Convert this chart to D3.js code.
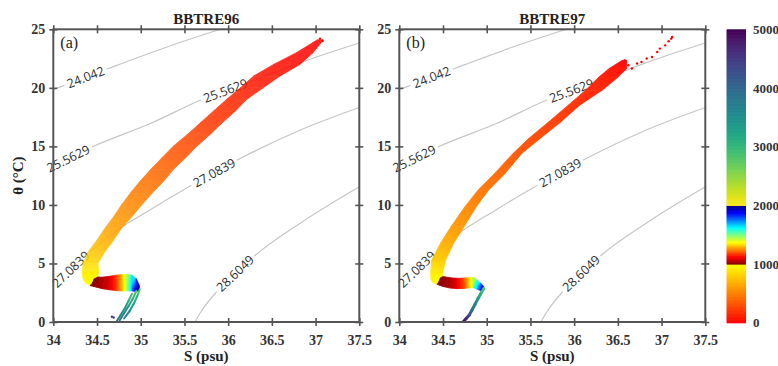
<!DOCTYPE html>
<html><head><meta charset="utf-8">
<script src="https://cdn.jsdelivr.net/npm/d3@7/dist/d3.min.js"></script>
<style>html,body{margin:0;padding:0;background:#fff;} svg{display:block}</style>
</head><body>
<svg id="chart" width="778" height="366"></svg>
<script>
// ---------------- data ----------------
const sTicks = [34, 34.5, 35, 35.5, 36, 36.5, 37, 37.5];
const thetaTicks = [0, 5, 10, 15, 20, 25];
const depthTicks = [0, 1000, 2000, 3000, 4000, 5000];
const panelTitles = ["BBTRE96", "BBTRE97"];
const panelLetters = ["(a)", "(b)"];

// isopycnals (sigma-theta) : points
const isoLevels = ["24.042", "25.5629", "27.0839", "28.6049"];
const iso1S = [34.0, 34.63, 35.3, 35.91];
const iso1T = [19.85, 21.65, 23.49, 25.0];
const iso2S = [34.0, 34.48, 35.11, 35.68, 36.29, 36.90, 37.5];
const iso2T = [13.33, 15.08, 16.95, 18.94, 20.65, 22.35, 23.83];
const iso3S = [34.0, 34.2, 34.4, 34.65, 35.1, 35.55, 36.12, 36.82, 37.5];
const iso3T = [3.0, 4.5, 5.85, 7.4, 9.55, 11.55, 13.9, 16.38, 18.32];
const iso4S = [35.62, 35.70, 35.87, 36.08, 36.31, 36.82, 37.5];
const iso4T = [0.0, 1.0, 2.59, 4.15, 5.7, 8.42, 11.55];
const isoLabelS = [[34.37], [34.17, 35.97], [34.2, 35.84], [36.08]];

// BBTRE96 : upper T-S band (theta level, fresh-edge S, salty-edge S, depth m)
const b96Theta = [24.1, 23.0, 22.0, 21.0, 20.0, 19.0, 18.0, 17.0, 16.0, 15.0, 14.0, 13.0, 12.0, 11.0, 10.0, 9.0, 8.0, 7.0, 6.0, 5.0, 4.3];
const b96SFresh = [37.02, 36.78, 36.52, 36.29, 36.14, 35.98, 35.83, 35.68, 35.53, 35.37, 35.24, 35.11, 34.99, 34.88, 34.78, 34.69, 34.59, 34.50, 34.40, 34.34, 34.33];
const b96SSalty = [37.09, 36.97, 36.82, 36.59, 36.40, 36.21, 36.08, 35.93, 35.79, 35.64, 35.51, 35.37, 35.26, 35.13, 35.01, 34.90, 34.78, 34.69, 34.59, 34.51, 34.52];
const b96Depth = [0, 20, 45, 75, 105, 140, 175, 215, 255, 300, 345, 390, 435, 480, 530, 580, 630, 690, 760, 850, 930];
// BBTRE96 : corner and intermediate-water hook (outer edge point, inner edge point, depth)
const h96S1 = [34.34, 34.37, 34.42, 34.48, 34.56, 34.64, 34.72, 34.78, 34.84, 34.90, 34.95, 34.985];
const h96T1 = [3.7, 3.3, 3.12, 3.0, 2.85, 2.75, 2.68, 2.65, 2.66, 2.65, 2.6, 2.7];
const h96S2 = [34.51, 34.51, 34.53, 34.56, 34.60, 34.66, 34.72, 34.78, 34.84, 34.90, 34.95, 34.985];
const h96T2 = [4.0, 3.85, 3.83, 3.83, 3.86, 3.92, 4.0, 4.05, 4.07, 4.0, 3.7, 3.1];
const h96Depth = [960, 995, 1010, 1030, 1060, 1100, 1180, 1300, 1450, 1650, 1850, 1990];
// BBTRE96 : deep strands (S, theta, depth)
const d96aS = [34.90, 34.86, 34.82, 34.77, 34.72];
const d96aT = [2.4, 1.8, 1.2, 0.6, 0.0];
const d96aD = [2900, 3150, 3400, 3650, 3900];
const d96bS = [34.95, 34.91, 34.86, 34.81, 34.76];
const d96bT = [2.65, 2.0, 1.35, 0.75, 0.15];
const d96bD = [2800, 3100, 3350, 3600, 3850];
const d96cS = [34.99, 34.96, 34.92, 34.87, 34.81];
const d96cT = [2.8, 2.2, 1.55, 0.9, 0.3];
const d96cD = [2700, 3000, 3300, 3550, 3800];
// BBTRE96 : isolated points
const p96S = [34.67, 34.69, 37.05, 37.08];
const p96T = [0.45, 0.38, 24.2, 24.0];
const p96D = [4400, 4450, 0, 0];

// BBTRE97 : upper band
const b97Theta = [22.35, 21.65, 20.9, 19.8, 18.5, 17.1, 15.67, 14.39, 12.69, 11.26, 9.84, 8.13, 6.71, 5.29, 4.3];
const b97SFresh = [36.55, 36.40, 36.28, 36.13, 35.93, 35.71, 35.48, 35.30, 35.09, 34.90, 34.75, 34.59, 34.47, 34.37, 34.36];
const b97SSalty = [36.60, 36.60, 36.50, 36.32, 36.06, 35.85, 35.61, 35.40, 35.21, 35.02, 34.88, 34.74, 34.62, 34.53, 34.50];
const b97Depth = [0, 40, 80, 130, 180, 230, 280, 330, 400, 460, 520, 600, 680, 800, 910];
const h97S1 = [34.36, 34.38, 34.43, 34.50, 34.58, 34.66, 34.74, 34.80, 34.85, 34.89, 34.93, 34.965];
const h97T1 = [3.7, 3.4, 3.22, 3.03, 2.9, 2.85, 2.87, 2.92, 2.92, 2.8, 2.68, 2.7];
const h97S2 = [34.49, 34.50, 34.53, 34.57, 34.61, 34.67, 34.74, 34.80, 34.85, 34.89, 34.93, 34.965];
const h97T2 = [4.0, 3.88, 3.84, 3.8, 3.76, 3.73, 3.75, 3.8, 3.82, 3.6, 3.3, 3.05];
const h97Depth = [960, 995, 1010, 1030, 1060, 1110, 1200, 1330, 1460, 1620, 1800, 1980];
const d97S = [34.965, 34.93, 34.90, 34.865, 34.83, 34.80, 34.765, 34.73];
const d97T = [2.85, 2.4, 2.0, 1.5, 1.0, 0.6, 0.3, 0.0];
const d97D = [2800, 3100, 3350, 3650, 3950, 4300, 4650, 5000];
const p97S = [36.58, 36.62, 36.66, 36.72, 36.77, 36.83, 36.89, 36.95, 36.98, 37.04, 37.08, 37.11, 37.12];
const p97T = [22.35, 21.93, 21.65, 22.08, 22.21, 22.5, 22.64, 23.06, 23.35, 23.63, 23.98, 24.2, 24.34];
const p97D = [0, 5, 10, 5, 5, 0, 0, 0, 0, 0, 0, 0, 0];

// ---------------- rendering ----------------
const W = 778, H = 366;
const svg = d3.select("#chart");
const defs = svg.append("defs");
const serif = "'Liberation Serif', 'Times New Roman', serif";

function jet(t) {
  const c = v => Math.max(0, Math.min(1, v));
  const r = c(Math.min(4 * t - 1.5, -4 * t + 4.5));
  const g = c(Math.min(4 * t - 0.5, -4 * t + 3.5));
  const b = c(Math.min(4 * t + 0.5, -4 * t + 2.5));
  return d3.rgb(r * 255, g * 255, b * 255).formatHex();
}
const upperMap = d3.interpolateRgb("#ff0000", "#ffff00");
function depthColor(d) {
  if (d < 1000) return upperMap(Math.max(0, d) / 1000);
  if (d < 2000) return jet((2000 - d) / 1000);
  return d3.interpolateViridis(1 - Math.min(1, (d - 2000) / 3000));
}

const yScale = d3.scaleLinear().domain([0, 25]).range([322, 29.3]);
const PW = 306;
const numFmt = d => String(d);

function thetaAt(sArr, tArr, s) {
  if (s <= sArr[0]) return tArr[0];
  for (let i = 1; i < sArr.length; i++) {
    if (s <= sArr[i]) {
      const f = (s - sArr[i - 1]) / (sArr[i] - sArr[i - 1]);
      return tArr[i - 1] + f * (tArr[i] - tArr[i - 1]);
    }
  }
  return tArr[tArr.length - 1];
}

const isoLines = [
  { level: isoLevels[0], s: iso1S, t: iso1T, labels: isoLabelS[0] },
  { level: isoLevels[1], s: iso2S, t: iso2T, labels: isoLabelS[1] },
  { level: isoLevels[2], s: iso3S, t: iso3T, labels: isoLabelS[2] },
  { level: isoLevels[3], s: iso4S, t: iso4T, labels: isoLabelS[3] }
];

const panels = [
  { title: panelTitles[0], letter: panelLetters[0], x0: 53.3, yTitle: true,
    band: { theta: b96Theta, sF: b96SFresh, sS: b96SSalty, depth: b96Depth },
    hook: { s1: h96S1, t1: h96T1, s2: h96S2, t2: h96T2, depth: h96Depth },
    strands: [{ s: d96aS, t: d96aT, d: d96aD }, { s: d96bS, t: d96bT, d: d96bD }, { s: d96cS, t: d96cT, d: d96cD }],
    strandW: 2.0, bandOpacity: 0.86,
    dots: { s: p96S, t: p96T, d: p96D } },
  { title: panelTitles[1], letter: panelLetters[1], x0: 399.3, yTitle: false,
    band: { theta: b97Theta, sF: b97SFresh, sS: b97SSalty, depth: b97Depth },
    hook: { s1: h97S1, t1: h97T1, s2: h97S2, t2: h97T2, depth: h97Depth },
    strands: [{ s: d97S, t: d97T, d: d97D }],
    strandW: 3.0, bandOpacity: 0.95,
    dots: { s: p97S, t: p97T, d: p97D } }
];

let gradCount = 0;
function makeGrad(x1, y1, x2, y2, d1, d2) {
  const id = "gr" + (gradCount++);
  const lg = defs.append("linearGradient").attr("id", id).attr("gradientUnits", "userSpaceOnUse")
    .attr("x1", x1).attr("y1", y1).attr("x2", x2).attr("y2", y2);
  [0, 0.25, 0.5, 0.75, 1].forEach(f => {
    lg.append("stop").attr("offset", f).attr("stop-color", depthColor(d1 + f * (d2 - d1)));
  });
  return id;
}

panels.forEach((p, pi) => {
  const x = d3.scaleLinear().domain([34, 37.5]).range([p.x0, p.x0 + PW]);
  const y = yScale;
  const g = svg.append("g");
  const clipId = "clip" + pi;
  defs.append("clipPath").attr("id", clipId).append("rect")
    .attr("x", p.x0).attr("y", y(25)).attr("width", PW).attr("height", y(0) - y(25));

  // ---- isopycnal contours with label gaps ----
  const maskId = "mask" + pi;
  const mask = defs.append("mask").attr("id", maskId).attr("maskUnits", "userSpaceOnUse")
    .attr("x", 0).attr("y", 0).attr("width", W).attr("height", H);
  mask.append("rect").attr("width", W).attr("height", H).attr("fill", "white");
  const contourG = g.append("g").attr("clip-path", `url(#${clipId})`).append("g").attr("mask", `url(#${maskId})`);
  const labelG = g.append("g");
  const line = d3.line().x(d => x(d[0])).y(d => y(d[1])).curve(d3.curveMonotoneX);
  isoLines.forEach(iso => {
    contourG.append("path").attr("d", line(iso.s.map((s, i) => [s, iso.t[i]])))
      .attr("fill", "none").attr("stroke", "#c6c6c6").attr("stroke-width", 1.2);
    iso.labels.forEach(ls => {
      const px = x(ls), py = y(thetaAt(iso.s, iso.t, ls));
      const xa = x(ls - 0.06), ya = y(thetaAt(iso.s, iso.t, ls - 0.06));
      const xb = x(ls + 0.06), yb = y(thetaAt(iso.s, iso.t, ls + 0.06));
      const ang = Math.atan2(yb - ya, xb - xa) * 180 / Math.PI;
      const tr = `translate(${px},${py}) rotate(${ang})`;
      const txt = labelG.append("text").attr("transform", tr)
        .attr("text-anchor", "middle").attr("dy", "0.36em")
        .style("font-family", "'Open Sans', 'DejaVu Sans', sans-serif").style("font-size", "12.5px")
        .attr("fill", "#2e2e2e").text(iso.level);
      const w = txt.node().getComputedTextLength();
      mask.append("rect").attr("transform", tr).attr("x", -w / 2 - 3).attr("y", -6)
        .attr("width", w + 6).attr("height", 12).attr("fill", "black");
    });
  });

  // ---- T-S band ----
  const dataG = g.append("g").attr("clip-path", `url(#${clipId})`);
  const px = q => [x(q[0]), y(q[1])];
  function drawSections(sections, target) {
    for (let i = 0; i < sections.length - 1; i++) {
      const s0 = sections[i], s1 = sections[i + 1];
      const A0 = px(s0.a), B0 = px(s0.b), A1 = px(s1.a), B1 = px(s1.b);
      const m0 = [(A0[0] + B0[0]) / 2, (A0[1] + B0[1]) / 2];
      const m1 = [(A1[0] + B1[0]) / 2, (A1[1] + B1[1]) / 2];
      const id = makeGrad(m0[0], m0[1], m1[0], m1[1], s0.d, s1.d);
      target.append("path")
        .attr("d", "M" + [A0, B0, B1, A1].map(v => v.join(",")).join("L") + "Z")
        .attr("fill", `url(#${id})`).attr("stroke", `url(#${id})`).attr("stroke-width", 0.8)
        .attr("stroke-linejoin", "round");
    }
  }
  const upper = p.band.theta.map((t, i) => ({ a: [p.band.sF[i], t], b: [p.band.sS[i], t], d: p.band.depth[i] }));
  const hook = p.hook.s1.map((s, i) => ({ a: [s, p.hook.t1[i]], b: [p.hook.s2[i], p.hook.t2[i]], d: p.hook.depth[i] }));
  drawSections(upper, dataG.append("g").attr("opacity", p.bandOpacity));
  drawSections([upper[upper.length - 1]].concat(hook), dataG.append("g"));

  // deep strands
  p.strands.forEach(st => {
    for (let i = 0; i < st.s.length - 1; i++) {
      const x1 = x(st.s[i]), y1 = y(st.t[i]), x2 = x(st.s[i + 1]), y2 = y(st.t[i + 1]);
      const id = makeGrad(x1, y1, x2, y2, st.d[i], st.d[i + 1]);
      dataG.append("line").attr("x1", x1).attr("y1", y1).attr("x2", x2).attr("y2", y2)
        .attr("stroke", `url(#${id})`).attr("stroke-width", p.strandW).attr("stroke-linecap", "round");
    }
  });
  // isolated points
  dataG.selectAll("circle.pt").data(p.dots.s.map((s, i) => [s, p.dots.t[i], p.dots.d[i]]))
    .enter().append("circle").attr("class", "pt")
    .attr("cx", d => x(d[0])).attr("cy", d => y(d[1])).attr("r", 1.2)
    .attr("fill", d => depthColor(d[2]));

  // ---- axes ----
  const axG = g.append("g");
  const tickStyle = sel => {
    sel.select(".domain").remove();
    sel.selectAll(".tick line").attr("stroke", "#555").attr("stroke-width", 1.6);
    sel.selectAll(".tick text").attr("fill", "#333")
      .style("font-family", serif).style("font-size", "14px").style("font-weight", "bold");
  };
  const yb = y(0), yt = y(25), xl = p.x0, xr = p.x0 + PW;
  axG.append("g").attr("transform", `translate(0,${yb})`)
    .call(d3.axisBottom(x).tickValues(sTicks).tickSize(4).tickPadding(9).tickFormat(numFmt)).call(tickStyle);
  axG.append("g").attr("transform", `translate(0,${yb})`)
    .call(d3.axisTop(x).tickValues(sTicks).tickSize(4).tickFormat("")).call(tickStyle);
  axG.append("g").attr("transform", `translate(0,${yt})`)
    .call(d3.axisTop(x).tickValues(sTicks).tickSize(4).tickFormat("")).call(tickStyle);
  axG.append("g").attr("transform", `translate(0,${yt})`)
    .call(d3.axisBottom(x).tickValues(sTicks).tickSize(4).tickFormat("")).call(tickStyle);
  axG.append("g").attr("transform", `translate(${xl},0)`)
    .call(d3.axisLeft(y).tickValues(thetaTicks).tickSize(4).tickPadding(4).tickFormat(numFmt)).call(tickStyle);
  axG.append("g").attr("transform", `translate(${xl},0)`)
    .call(d3.axisRight(y).tickValues(thetaTicks).tickSize(4).tickFormat("")).call(tickStyle);
  axG.append("g").attr("transform", `translate(${xr},0)`)
    .call(d3.axisRight(y).tickValues(thetaTicks).tickSize(4).tickFormat("")).call(tickStyle);
  axG.append("g").attr("transform", `translate(${xr},0)`)
    .call(d3.axisLeft(y).tickValues(thetaTicks).tickSize(4).tickFormat("")).call(tickStyle);
  axG.append("rect").attr("x", xl).attr("y", yt).attr("width", PW).attr("height", yb - yt)
    .attr("fill", "none").attr("stroke", "#555").attr("stroke-width", 2);

  // ---- texts ----
  g.append("text").attr("x", p.x0 + PW / 2).attr("y", 24).attr("text-anchor", "middle")
    .style("font-family", serif).style("font-size", "15px").style("font-weight", "bold")
    .attr("fill", "#222").text(p.title);
  g.append("text").attr("x", p.x0 + PW / 2).attr("y", 361).attr("text-anchor", "middle")
    .style("font-family", serif).style("font-size", "15px").style("font-weight", "bold")
    .attr("fill", "#222").text("S (psu)");
  g.append("text").attr("x", p.x0 + 7).attr("y", 48)
    .style("font-family", serif).style("font-size", "16px")
    .attr("fill", "#222").text(p.letter);
  if (p.yTitle) {
    g.append("text").attr("transform", `translate(23,${(yt + yb) / 2}) rotate(-90)`).attr("text-anchor", "middle")
      .style("font-family", serif).style("font-size", "15px").style("font-weight", "bold")
      .attr("fill", "#222").text("θ (°C)");
  }
});

// ---- colour bar ----
const cbX = 726.7, cbW = 19.3;
const cbY = d3.scaleLinear().domain([0, 5000]).range([322.7, 29.3]);
const cbG = svg.append("g");
const step = 10;
cbG.selectAll("rect.cb").data(d3.range(0, 5000, step)).enter().append("rect").attr("class", "cb")
  .attr("x", cbX).attr("width", cbW)
  .attr("y", d => cbY(d + step)).attr("height", d => cbY(d) - cbY(d + step) + 0.6)
  .attr("fill", d => depthColor(d + step / 2));
const cbAxis = cbG.append("g").attr("transform", `translate(${cbX + cbW},0)`)
  .call(d3.axisRight(cbY).tickValues(depthTicks).tickSize(0).tickPadding(7).tickFormat(d3.format("d")));
cbAxis.select(".domain").remove();
cbAxis.selectAll(".tick text").attr("fill", "#333")
  .style("font-family", serif).style("font-size", "13px").style("font-weight", "bold");
</script>
</body></html>
